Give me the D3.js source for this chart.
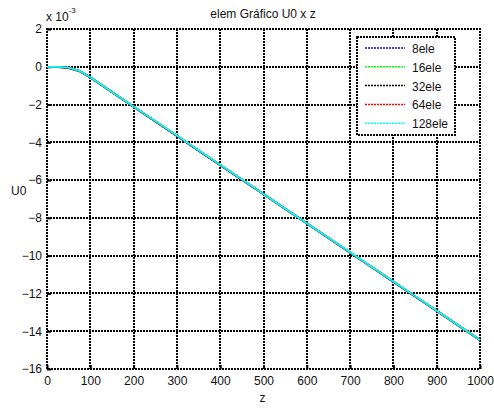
<!DOCTYPE html>
<html>
<head>
<meta charset="utf-8">
<script src="https://cdn.jsdelivr.net/npm/d3@7"></script>
<style>
  body { margin: 0; background: #fff; }
  svg text { font-family: "Liberation Sans", Arial, sans-serif; fill: #111; }
</style>
</head>
<body>
<div class="chart"></div>
<script>
"use strict";

// values are in units of 1e-3 (axis shows "x 10^-3")
const zValues = [0, 25, 50, 75, 100, 150, 200, 250, 300, 350, 400, 450, 500,
  550, 600, 650, 700, 750, 800, 850, 900, 950, 1000];

const u8 = [0, -0.02, -0.07, -0.24, -0.57, -1.35, -2.12, -2.90, -3.66, -4.44, -5.21, -5.98,
  -6.75, -7.53, -8.30, -9.07, -9.84, -10.62, -11.39, -12.16, -12.93, -13.71, -14.48];
const u16 = [0, -0.02, -0.06, -0.23, -0.56, -1.34, -2.11, -2.89, -3.65, -4.43, -5.20, -5.97,
  -6.74, -7.52, -8.29, -9.06, -9.83, -10.61, -11.38, -12.15, -12.92, -13.70, -14.47];
const u32 = [0, -0.01, -0.06, -0.22, -0.56, -1.33, -2.11, -2.88, -3.65, -4.43, -5.20, -5.97,
  -6.74, -7.51, -8.29, -9.06, -9.83, -10.60, -11.38, -12.15, -12.92, -13.69, -14.46];
const u64 = [0, -0.01, -0.06, -0.22, -0.55, -1.33, -2.10, -2.88, -3.65, -4.42, -5.19, -5.97,
  -6.74, -7.51, -8.28, -9.05, -9.83, -10.60, -11.37, -12.15, -12.92, -13.69, -14.46];
const u128 = [0, -0.01, -0.05, -0.22, -0.55, -1.33, -2.10, -2.87, -3.64, -4.42, -5.19, -5.96,
  -6.73, -7.51, -8.28, -9.05, -9.82, -10.60, -11.37, -12.14, -12.91, -13.69, -14.46];

const seriesNames = ["8ele", "16ele", "32ele", "64ele", "128ele"];
const seriesColors = ["#0000ff", "#00ff00", "#000000", "#ff0000", "#00ffff"];
const seriesValues = [u8, u16, u32, u64, u128];

const xTicks = [0, 100, 200, 300, 400, 500, 600, 700, 800, 900, 1000];
const yTicks = [2, 0, -2, -4, -6, -8, -10, -12, -14, -16];

const width = 494;
const height = 408;
const margin = { left: 47, right: 14, top: 29, bottom: 39 };

const svg = d3
  .select(".chart")
  .append("svg")
  .attr("width", width)
  .attr("height", height);

const x = d3.scaleLinear().domain([0, 1000]).range([margin.left, width - margin.right]);
const y = d3.scaleLinear().domain([-16, 2]).range([height - margin.bottom, margin.top]);

const dotted = "2,1";
const rx = (v) => Math.round(x(v));
const ry = (v) => Math.round(y(v));

// grid
const grid = svg.append("g").attr("shape-rendering", "crispEdges");
grid
  .selectAll("line.gx")
  .data(xTicks.slice(1, -1))
  .enter()
  .append("line")
  .attr("class", "gx")
  .attr("x1", (d) => rx(d))
  .attr("x2", (d) => rx(d))
  .attr("y1", ry(2))
  .attr("y2", ry(-16))
  .attr("stroke", "#000")
  .attr("stroke-width", 2)
  .attr("stroke-dasharray", dotted);

grid
  .selectAll("line.gy")
  .data(yTicks.slice(1, -1))
  .enter()
  .append("line")
  .attr("class", "gy")
  .attr("x1", rx(0))
  .attr("x2", rx(1000))
  .attr("y1", (d) => ry(d))
  .attr("y2", (d) => ry(d))
  .attr("stroke", "#000")
  .attr("stroke-width", 2)
  .attr("stroke-dasharray", dotted);

// box
grid
  .append("rect")
  .attr("x", rx(0))
  .attr("y", ry(2))
  .attr("width", rx(1000) - rx(0))
  .attr("height", ry(-16) - ry(2))
  .attr("fill", "none")
  .attr("stroke", "#000")
  .attr("stroke-width", 2)
  .attr("stroke-dasharray", dotted);

// axes (ticks inside, labels outside)
const xAxis = d3.axisBottom(x).tickValues(xTicks).tickFormat(d3.format("d")).tickSize(-4).tickPadding(7);
const yAxis = d3.axisLeft(y).tickValues(yTicks).tickFormat(d3.format("d")).tickSize(-4).tickPadding(5);

const gx = svg
  .append("g")
  .attr("transform", `translate(0,${ry(-16)})`)
  .call(xAxis);
const gy = svg
  .append("g")
  .attr("transform", `translate(${rx(0)},0)`)
  .call(yAxis);

[gx, gy].forEach((g) => {
  g.select(".domain").remove();
  g.selectAll(".tick line").attr("stroke", "#000").attr("stroke-width", 2);
  g.selectAll(".tick text")
    .attr("fill", "#111")
    .style("font-family", "Liberation Sans, Arial, sans-serif")
    .style("font-size", "12px");
});
gx.selectAll(".tick text").attr("dy", "0.71em");

// series
const line = d3
  .line()
  .x((d, i) => x(zValues[i]))
  .y((d) => y(d));

svg
  .append("g")
  .selectAll("path")
  .data(seriesValues)
  .enter()
  .append("path")
  .attr("d", (d) => line(d))
  .attr("fill", "none")
  .attr("stroke", (d, i) => seriesColors[i])
  .attr("stroke-width", 1.8);

// titles
svg
  .append("text")
  .attr("x", 263)
  .attr("y", 18)
  .attr("text-anchor", "middle")
  .style("font-size", "12px")
  .text("elem Gráfico U0 x z");

svg
  .append("text")
  .attr("x", x(500) - 1)
  .attr("y", 402)
  .attr("text-anchor", "middle")
  .style("font-size", "12px")
  .text("z");

svg
  .append("text")
  .attr("x", 11)
  .attr("y", 195)
  .style("font-size", "12px")
  .text("U0");

const expo = svg.append("text").attr("x", 46).attr("y", 21).style("font-size", "12px");
expo.append("tspan").text("x 10");
expo.append("tspan").attr("dy", -8).style("font-size", "8px").text("-3");

// legend
const legend = svg.append("g");
legend
  .append("rect")
  .attr("x", 357)
  .attr("y", 37)
  .attr("width", 98)
  .attr("height", 98)
  .attr("fill", "#fff")
  .attr("stroke", "#000")
  .attr("stroke-width", 2)
  .attr("stroke-dasharray", dotted)
  .attr("shape-rendering", "crispEdges");

const rows = legend
  .selectAll("g.row")
  .data(seriesNames)
  .enter()
  .append("g")
  .attr("class", "row")
  .attr("transform", (d, i) => `translate(0,${48 + i * 18.8})`);

rows
  .append("line")
  .attr("x1", 365)
  .attr("x2", 405)
  .attr("stroke", (d, i) => seriesColors[i])
  .attr("stroke-width", 1.5)
  .attr("stroke-dasharray", "2,1");

rows
  .append("text")
  .attr("x", 412)
  .attr("y", 5)
  .style("font-size", "12px")
  .text((d) => d);
</script>
</body>
</html>
